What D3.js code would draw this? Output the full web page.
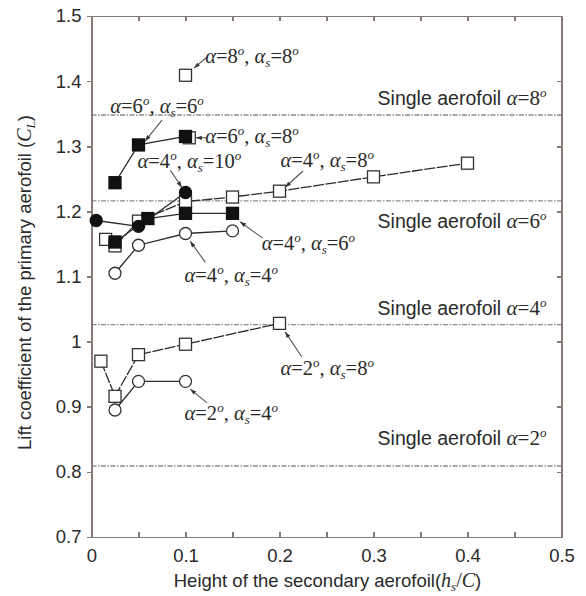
<!DOCTYPE html>
<html>
<head>
<meta charset="utf-8">
<script src="https://cdn.jsdelivr.net/npm/d3@7"></script>
<style>
  body { margin: 0; background: #fff; }
  svg { display: block; }
  .axis path, .axis line { stroke: #857b76; stroke-width: 1.6px; shape-rendering: crispEdges; }
  .axis text { font-family: Arial, "Liberation Sans", sans-serif; font-size: 18.5px; fill: #2a2a2a; }
  .series-line { fill: none; stroke: #2b2b2b; stroke-width: 1.3px; }
  .ref-line { stroke: #8c8c8c; stroke-width: 1.3px; stroke-dasharray: 5,1.5,1.5,1.5; }
  .note { font-family: "Liberation Serif", "Times New Roman", serif; font-size: 20.5px; fill: #2a2a2a; }
  .ref-label { font-family: Arial, "Liberation Sans", sans-serif; font-size: 19.5px; fill: #2a2a2a; }
  .title { font-family: Arial, "Liberation Sans", sans-serif; font-size: 18.5px; fill: #2a2a2a; }
  .arrow { stroke: #555; stroke-width: 1.1px; fill: none; }
</style>
</head>
<body>
<div id="chart"></div>
<script>
// axis ticks
const xTicks = [0, 0.1, 0.2, 0.3, 0.4, 0.5];
const xTickLabels = ["0", "0.1", "0.2", "0.3", "0.4", "0.5"];
const xMinorTicks = [0.05, 0.15, 0.25, 0.35, 0.45];
const yTicks = [0.7, 0.8, 0.9, 1.0, 1.1, 1.2, 1.3, 1.4, 1.5];
const yTickLabels = ["0.7", "0.8", "0.9", "1", "1.1", "1.2", "1.3", "1.4", "1.5"];

// series: height hs/C and lift coefficient CL
const h_a8_s8 = [0.1];
const cl_a8_s8 = [1.409];
const h_a6_s8 = [0.104];
const cl_a6_s8 = [1.313];
const h_a4_s8 = [0.015, 0.025, 0.05, 0.1, 0.15, 0.2, 0.3, 0.4];
const cl_a4_s8 = [1.157, 1.147, 1.185, 1.215, 1.222, 1.231, 1.253, 1.274];
const h_a2_s8 = [0.01, 0.025, 0.05, 0.1, 0.2];
const cl_a2_s8 = [0.970, 0.916, 0.980, 0.996, 1.028];
const h_a4_s4 = [0.025, 0.05, 0.1, 0.15];
const cl_a4_s4 = [1.105, 1.148, 1.166, 1.170];
const h_a2_s4 = [0.025, 0.05, 0.1];
const cl_a2_s4 = [0.895, 0.939, 0.939];
const h_a6_s6 = [0.025, 0.05, 0.1];
const cl_a6_s6 = [1.244, 1.302, 1.315];
const h_a4_s6 = [0.025, 0.06, 0.1, 0.15];
const cl_a4_s6 = [1.153, 1.189, 1.197, 1.197];
const h_a4_s10 = [0.005, 0.05, 0.1];
const cl_a4_s10 = [1.186, 1.177, 1.229];

// single aerofoil reference values
const singleAlpha = [8, 6, 4, 2];
const singleCL = [1.348, 1.216, 1.026, 0.809];

const W = 586, H = 596;
const margin = { left: 91.5, right: 24.5, top: 16, bottom: 59 };

const svg = d3.select("#chart").append("svg")
  .attr("width", W).attr("height", H);

const x = d3.scaleLinear().domain([0, 0.5]).range([margin.left, W - margin.right]);
const y = d3.scaleLinear().domain([0.7, 1.5]).range([H - margin.bottom, margin.top]);

svg.append("defs").append("marker")
  .attr("id", "head")
  .attr("viewBox", "0 0 10 10")
  .attr("refX", 10).attr("refY", 5)
  .attr("markerWidth", 8).attr("markerHeight", 6)
  .attr("markerUnits", "userSpaceOnUse")
  .attr("orient", "auto")
  .append("path").attr("d", "M0,1.5 L10,5 L0,8.5 Z").attr("fill", "#333");

// reference lines
singleAlpha.forEach(function (a, i) {
  svg.append("line").attr("class", "ref-line")
    .attr("x1", x(0)).attr("x2", x(0.5))
    .attr("y1", y(singleCL[i])).attr("y2", y(singleCL[i]));
});

// axes
svg.append("g").attr("class", "axis")
  .attr("transform", `translate(0,${y(0.7)})`)
  .call(d3.axisBottom(x).tickValues(xTicks).tickFormat((d, i) => xTickLabels[i])
    .tickSize(-5).tickSizeOuter(0).tickPadding(12));
svg.append("g").attr("class", "axis")
  .attr("transform", `translate(0,${y(0.7)})`)
  .call(d3.axisBottom(x).tickValues(xMinorTicks).tickFormat("").tickSize(-5).tickSizeOuter(0));
svg.append("g").attr("class", "axis")
  .attr("transform", `translate(0,${y(1.5)})`)
  .call(d3.axisTop(x).tickValues(xTicks.concat(xMinorTicks)).tickFormat("").tickSize(-5).tickSizeOuter(0));
svg.append("g").attr("class", "axis")
  .attr("transform", `translate(${x(0)},0)`)
  .call(d3.axisLeft(y).tickValues(yTicks).tickFormat((d, i) => yTickLabels[i])
    .tickSize(5).tickSizeOuter(0).tickPadding(5));
svg.append("g").attr("class", "axis")
  .attr("transform", `translate(${x(0.5)},0)`)
  .call(d3.axisRight(y).tickValues(yTicks).tickFormat("").tickSize(-5).tickSizeOuter(0));

// series table
const series = [
  { h: h_a8_s8, cl: cl_a8_s8, shape: "square", filled: false },
  { h: h_a6_s8, cl: cl_a6_s8, shape: "square", filled: false },
  { h: h_a4_s8, cl: cl_a4_s8, shape: "square", filled: false, dash: "11,1.5" },
  { h: h_a2_s8, cl: cl_a2_s8, shape: "square", filled: false, dash: "11,1.5" },
  { h: h_a4_s4, cl: cl_a4_s4, shape: "circle", filled: false },
  { h: h_a2_s4, cl: cl_a2_s4, shape: "circle", filled: false },
  { h: h_a6_s6, cl: cl_a6_s6, shape: "square", filled: true },
  { h: h_a4_s6, cl: cl_a4_s6, shape: "square", filled: true },
  { h: h_a4_s10, cl: cl_a4_s10, shape: "circle", filled: true }
];

const line = d3.line().x(d => x(d[0])).y(d => y(d[1]));

series.forEach(function (s) {
  const pts = s.h.map((v, i) => [v, s.cl[i]]);
  if (pts.length > 1) {
    svg.append("path").attr("class", "series-line")
      .attr("d", line(pts))
      .attr("stroke-dasharray", s.dash || null);
  }
});

series.forEach(function (s) {
  const pts = s.h.map((v, i) => [v, s.cl[i]]);
  const g = svg.append("g");
  const fill = s.filled ? "#111" : "#fff";
  const stroke = s.filled ? "#111" : "#333";
  if (s.shape === "square") {
    g.selectAll("rect").data(pts).enter().append("rect")
      .attr("x", d => x(d[0]) - 6).attr("y", d => y(d[1]) - 6)
      .attr("width", 12).attr("height", 12)
      .attr("fill", fill).attr("stroke", stroke).attr("stroke-width", 1.3);
  } else {
    g.selectAll("circle").data(pts).enter().append("circle")
      .attr("cx", d => x(d[0])).attr("cy", d => y(d[1]))
      .attr("r", 6)
      .attr("fill", fill).attr("stroke", stroke).attr("stroke-width", 1.3);
  }
});

// annotations (in data units): text anchor, arrow start, arrow end
const notes = [
  { a: 8, as: 8, tx: 0.121, ty: 1.428, ax: [0.123, 0.109], ay: [1.437, 1.420] },
  { a: 6, as: 6, tx: 0.020, ty: 1.351, ax: [0.075, 0.057], ay: [1.340, 1.308] },
  { a: 6, as: 8, tx: 0.121, ty: 1.305, ax: [0.122, 0.111], ay: [1.313, 1.313] },
  { a: 4, as: 10, tx: 0.049, ty: 1.267, ax: [0.084, 0.096], ay: [1.263, 1.237] },
  { a: 4, as: 8, tx: 0.201, ty: 1.268, ax: [0.225, 0.206], ay: [1.262, 1.237] },
  { a: 4, as: 6, tx: 0.181, ty: 1.141, ax: [0.182, 0.158], ay: [1.159, 1.184] },
  { a: 4, as: 4, tx: 0.099, ty: 1.091, ax: [0.121, 0.105], ay: [1.122, 1.154] },
  { a: 2, as: 8, tx: 0.201, ty: 0.949, ax: [0.224, 0.206], ay: [0.976, 1.015] },
  { a: 2, as: 4, tx: 0.099, ty: 0.879, ax: [0.123, 0.105], ay: [0.906, 0.927] }
];

function alphaText(t, a, as) {
  t.append("tspan").attr("font-style", "italic").text("α");
  t.append("tspan").text("=" + a);
  t.append("tspan").attr("dy", -8).attr("font-size", 13).attr("font-style", "italic").text("o");
  t.append("tspan").attr("dy", 8).text(", ");
  t.append("tspan").attr("font-style", "italic").text("α");
  t.append("tspan").attr("dy", 4).attr("font-size", 13).attr("font-style", "italic").text("s");
  t.append("tspan").attr("dy", -4).text("=" + as);
  t.append("tspan").attr("dy", -8).attr("font-size", 13).attr("font-style", "italic").text("o");
}

notes.forEach(function (n) {
  svg.append("line").attr("class", "arrow")
    .attr("x1", x(n.ax[0])).attr("y1", y(n.ay[0]))
    .attr("x2", x(n.ax[1])).attr("y2", y(n.ay[1]))
    .attr("marker-end", "url(#head)");
  const t = svg.append("text").attr("class", "note")
    .attr("x", x(n.tx)).attr("y", y(n.ty));
  alphaText(t, n.a, n.as);
});

// single aerofoil labels
const refOffset = [-10, 27, -10, -21];
singleAlpha.forEach(function (a, i) {
  const t = svg.append("text").attr("class", "ref-label")
    .attr("x", x(0.484)).attr("y", y(singleCL[i]) + refOffset[i])
    .attr("text-anchor", "end");
  t.append("tspan").text("Single aerofoil ");
  t.append("tspan").attr("font-family", "'Liberation Serif', serif").attr("font-style", "italic").attr("font-size", 21).text("α");
  t.append("tspan").attr("font-family", "'Liberation Serif', serif").attr("font-size", 21).text("=" + a);
  t.append("tspan").attr("font-family", "'Liberation Serif', serif").attr("font-style", "italic")
    .attr("font-size", 13).attr("dy", -8).text("o");
});

// axis titles
const xt = svg.append("text").attr("class", "title")
  .attr("x", (x(0) + x(0.5)) / 2 + 1).attr("y", 587).attr("text-anchor", "middle");
xt.append("tspan").text("Height of the secondary aerofoil(");
xt.append("tspan").attr("font-family", "'Liberation Serif', serif").attr("font-style", "italic").attr("font-size", 20).text("h");
xt.append("tspan").attr("font-family", "'Liberation Serif', serif").attr("font-style", "italic").attr("font-size", 13).attr("dy", 4).text("s");
xt.append("tspan").attr("font-family", "'Liberation Serif', serif").attr("font-size", 20).attr("dy", -4).text("/");
xt.append("tspan").attr("font-family", "'Liberation Serif', serif").attr("font-style", "italic").attr("font-size", 20).text("C");
xt.append("tspan").text(")");

const yt = svg.append("text").attr("class", "title")
  .attr("transform", `translate(31,${(y(0.7) + y(1.5)) / 2 + 6}) rotate(-90)`)
  .attr("text-anchor", "middle");
yt.append("tspan").text("Lift coefficient of the primary aerofoil (");
yt.append("tspan").attr("font-family", "'Liberation Serif', serif").attr("font-style", "italic").attr("font-size", 20).text("C");
yt.append("tspan").attr("font-family", "'Liberation Serif', serif").attr("font-style", "italic").attr("font-size", 13).attr("dy", 4).text("L");
yt.append("tspan").attr("dy", -4).text(")");
</script>
</body>
</html>
